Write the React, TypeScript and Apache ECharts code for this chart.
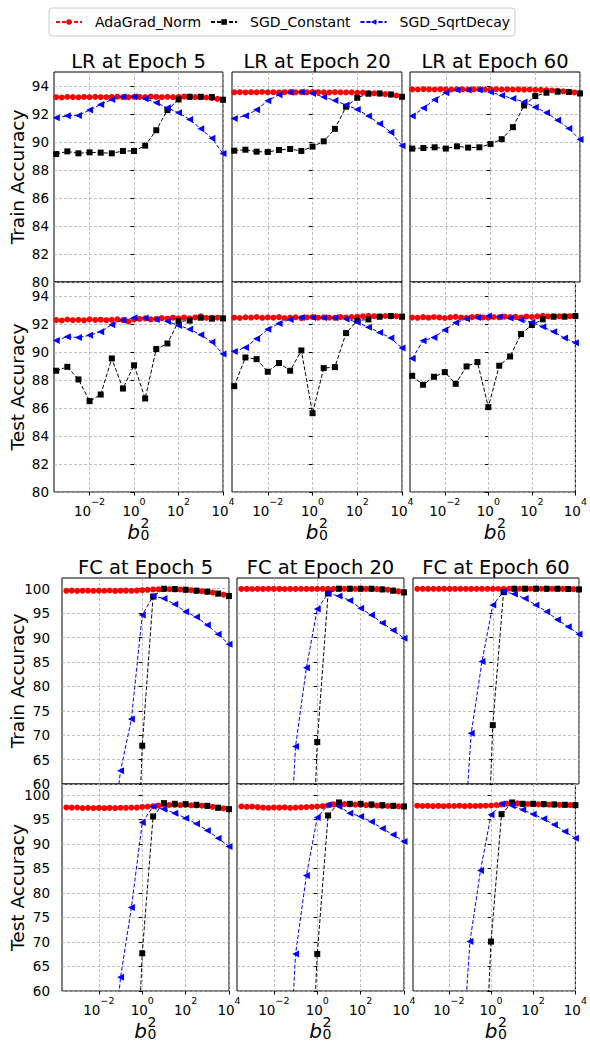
import React, { useEffect, useRef } from 'react';
import * as echarts from 'echarts';

// log10(b0^2) sample positions
const LOG_B0SQ_16 = [-3.5, -3, -2.5, -2, -1.5, -1, -0.5, 0, 0.5, 1, 1.5, 2, 2.5, 3, 3.5, 4];
const LOG_B0SQ_31 = [
  -3.5, -3.25, -3, -2.75, -2.5, -2.25, -2, -1.75, -1.5, -1.25,
  -1, -0.75, -0.5, -0.25, 0, 0.25, 0.5, 0.75, 1, 1.25,
  1.5, 1.75, 2, 2.25, 2.5, 2.75, 3, 3.25, 3.5, 3.75, 4,
];
const EPOCHS = [5, 20, 60];
const X_TICKS = [-2, 0, 2, 4];
const LR_Y_TICKS = [80, 82, 84, 86, 88, 90, 92, 94];
const FC_Y_TICKS = [60, 65, 70, 75, 80, 85, 90, 95, 100];
const SERIES_NAMES = ['AdaGrad_Norm', 'SGD_Constant', 'SGD_SqrtDecay'];

// ---------- LR, train ----------
const LR_TRAIN_ADAGRAD_E5 = [
  93.20, 93.18, 93.22, 93.21, 93.19, 93.22, 93.20, 93.23, 93.21, 93.20,
  93.22, 93.24, 93.21, 93.20, 93.23, 93.22, 93.21, 93.24, 93.22, 93.20,
  93.23, 93.21, 93.22, 93.24, 93.22, 93.21, 93.20, 93.18, 93.14, 93.08, 93.02,
];
const LR_TRAIN_CONST_E5 = [89.14, 89.33, 89.19, 89.26, 89.24, 89.19, 89.36, 89.36, 89.74, 90.84, 92.28, 93.04, 93.23, 93.23, 93.21, 93.02];
const LR_TRAIN_SQRT_E5 = [91.73, 91.87, 91.89, 92.28, 92.68, 93.04, 93.23, 93.23, 93.09, 92.80, 92.44, 92.09, 91.61, 90.94, 90.27, 89.17];

const LR_TRAIN_ADAGRAD_E20 = [
  93.55, 93.56, 93.54, 93.56, 93.55, 93.57, 93.55, 93.56, 93.54, 93.56,
  93.57, 93.55, 93.56, 93.55, 93.57, 93.56, 93.55, 93.54, 93.56, 93.55,
  93.54, 93.55, 93.52, 93.53, 93.50, 93.48, 93.45, 93.42, 93.38, 93.32, 93.25,
];
const LR_TRAIN_CONST_E20 = [89.38, 89.45, 89.31, 89.29, 89.43, 89.50, 89.36, 89.67, 90.05, 90.94, 92.52, 93.16, 93.45, 93.47, 93.40, 93.23];
const LR_TRAIN_SQRT_E20 = [91.68, 91.87, 92.30, 92.95, 93.38, 93.55, 93.57, 93.47, 93.21, 92.97, 92.64, 92.33, 91.85, 91.30, 90.70, 89.74];

const LR_TRAIN_ADAGRAD_E60 = [
  93.76, 93.75, 93.77, 93.76, 93.75, 93.77, 93.76, 93.75, 93.77, 93.76,
  93.75, 93.76, 93.77, 93.75, 93.76, 93.77, 93.75, 93.76, 93.75, 93.76,
  93.74, 93.75, 93.73, 93.72, 93.70, 93.68, 93.65, 93.62, 93.58, 93.54, 93.48,
];
const LR_TRAIN_CONST_E60 = [89.53, 89.57, 89.62, 89.53, 89.69, 89.60, 89.62, 89.86, 90.20, 91.06, 92.61, 93.28, 93.52, 93.59, 93.57, 93.47];
const LR_TRAIN_SQRT_E60 = [91.85, 92.42, 93.02, 93.52, 93.71, 93.71, 93.71, 93.57, 93.33, 93.11, 92.85, 92.49, 92.09, 91.56, 90.96, 90.17];

// ---------- LR, test ----------
const LR_TEST_ADAGRAD_E5 = [
  92.28, 92.25, 92.32, 92.27, 92.30, 92.26, 92.33, 92.29, 92.31, 92.27,
  92.30, 92.34, 92.28, 92.18, 92.32, 92.36, 92.40, 92.33, 92.36, 92.42,
  92.38, 92.45, 92.41, 92.47, 92.40, 92.47, 92.55, 92.44, 92.45, 92.45, 92.43,
];
const LR_TEST_CONST_E5 = [88.66, 88.94, 88.04, 86.49, 86.96, 89.54, 87.39, 89.05, 86.68, 90.21, 90.61, 92.19, 92.24, 92.45, 92.38, 92.40];
const LR_TEST_SQRT_E5 = [90.83, 91.09, 91.04, 91.19, 91.45, 91.95, 92.28, 92.45, 92.43, 92.33, 92.19, 91.90, 91.62, 91.23, 90.71, 89.85];

const LR_TEST_ADAGRAD_E20 = [
  92.45, 92.43, 92.48, 92.46, 92.50, 92.44, 92.47, 92.45, 92.49, 92.43,
  92.46, 92.48, 92.42, 92.47, 92.50, 92.45, 92.48, 92.46, 92.44, 92.49,
  92.47, 92.50, 92.52, 92.55, 92.58, 92.56, 92.54, 92.57, 92.55, 92.56, 92.54,
];
const LR_TEST_CONST_E20 = [87.56, 89.61, 89.49, 88.59, 89.21, 88.66, 90.11, 85.63, 88.85, 88.92, 91.35, 92.24, 92.33, 92.52, 92.57, 92.52];
const LR_TEST_SQRT_E20 = [90.04, 90.33, 90.95, 91.62, 92.04, 92.33, 92.47, 92.47, 92.45, 92.45, 92.35, 92.12, 91.76, 91.40, 91.00, 90.28];

const LR_TEST_ADAGRAD_E60 = [
  92.46, 92.44, 92.49, 92.45, 92.50, 92.47, 92.43, 92.48, 92.51, 92.46,
  92.44, 92.49, 92.52, 92.47, 92.45, 92.50, 92.48, 92.52, 92.49, 92.51,
  92.47, 92.53, 92.50, 92.55, 92.58, 92.54, 92.56, 92.55, 92.57, 92.56, 92.55,
];
const LR_TEST_CONST_E60 = [88.30, 87.66, 88.23, 88.56, 87.73, 88.97, 89.28, 86.06, 89.02, 89.68, 91.28, 91.93, 92.33, 92.52, 92.52, 92.57];
const LR_TEST_SQRT_E60 = [89.54, 90.80, 91.04, 91.57, 92.09, 92.38, 92.47, 92.57, 92.52, 92.43, 92.28, 92.12, 91.81, 91.45, 91.00, 90.66];

// ---------- FC, train ----------
const FC_TRAIN_ADAGRAD_E5 = [
  99.58, 99.62, 99.55, 99.60, 99.63, 99.57, 99.61, 99.59, 99.64, 99.56,
  99.60, 99.62, 99.58, 99.63, 99.70, 99.78, 99.85, 99.90, 99.93, 99.91,
  99.88, 99.84, 99.78, 99.70, 99.60, 99.50, 99.38, 99.22, 99.02, 98.80, 98.50,
];
const FC_TRAIN_CONST_E5 = [10.2, 10.1, 10.3, 10.0, 10.2, 10.1, 10.3, 67.84, 98.4, 100.0, 99.93, 99.8, 99.6, 99.4, 99.0, 98.5];
const FC_TRAIN_SQRT_E5 = [10.5, 11.2, 12.8, 18.5, 45.0, 62.73, 73.29, 94.62, 98.5, 98.02, 96.8, 95.3, 94.2, 92.57, 90.66, 88.62];

const FC_TRAIN_ADAGRAD_E20 = [
  99.96, 99.97, 99.95, 99.97, 99.96, 99.98, 99.96, 99.97, 99.95, 99.97,
  99.96, 99.98, 99.97, 99.96, 99.97, 99.98, 99.99, 100.0, 100.0, 99.99,
  100.0, 99.99, 99.98, 99.97, 99.95, 99.92, 99.88, 99.80, 99.62, 99.45, 99.25,
];
const FC_TRAIN_CONST_E20 = [10.1, 10.3, 10.0, 10.2, 10.1, 10.2, 11.5, 68.6, 99.05, 100.0, 100.0, 100.0, 100.0, 99.86, 99.6, 99.25];
const FC_TRAIN_SQRT_E20 = [10.2, 10.4, 11.0, 13.5, 26.0, 67.7, 83.8, 95.84, 99.05, 98.5, 97.6, 95.98, 94.6, 92.98, 91.48, 89.85];

const FC_TRAIN_ADAGRAD_E60 = [
  99.98, 99.99, 99.97, 99.98, 99.99, 99.98, 99.97, 99.99, 99.98, 99.99,
  99.97, 99.98, 99.99, 99.98, 99.99, 100.0, 100.0, 100.0, 100.0, 100.0,
  100.0, 100.0, 100.0, 100.0, 99.99, 99.99, 99.98, 99.97, 99.95, 99.92, 99.86,
];
const FC_TRAIN_CONST_E60 = [10.1, 10.2, 10.0, 10.3, 10.1, 10.2, 12.0, 72.06, 99.3, 100.0, 100.0, 100.0, 100.0, 100.0, 99.95, 99.86];
const FC_TRAIN_SQRT_E60 = [10.3, 10.5, 11.2, 14.0, 37.0, 70.4, 85.08, 96.66, 99.39, 98.9, 98.0, 96.66, 95.3, 93.66, 92.23, 90.66];

// ---------- FC, test ----------
const FC_TEST_ADAGRAD_E5 = [
  97.42, 97.38, 97.41, 97.30, 97.35, 97.28, 97.32, 97.27, 97.33, 97.30,
  97.36, 97.34, 97.40, 97.38, 97.52, 97.60, 97.68, 97.80, 97.95, 97.92,
  97.94, 97.90, 97.92, 97.86, 97.84, 97.78, 97.70, 97.55, 97.38, 97.22, 97.07,
];
const FC_TEST_CONST_E5 = [12.0, 11.5, 12.3, 11.8, 12.1, 12.0, 17.7, 67.69, 95.58, 98.3, 98.16, 98.1, 97.96, 97.76, 97.35, 97.07];
const FC_TEST_SQRT_E5 = [10.5, 11.0, 12.0, 18.0, 40.0, 62.79, 77.0, 94.35, 97.62, 97.07, 96.26, 95.24, 94.08, 92.72, 91.16, 89.46];

const FC_TEST_ADAGRAD_E20 = [
  97.62, 97.55, 97.60, 97.48, 97.40, 97.35, 97.42, 97.38, 97.45, 97.33,
  97.40, 97.45, 97.50, 97.55, 97.62, 97.70, 97.85, 98.05, 98.16, 98.10,
  98.05, 98.00, 97.95, 97.90, 97.85, 97.80, 97.75, 97.72, 97.68, 97.65, 97.62,
];
const FC_TEST_CONST_E20 = [11.5, 12.0, 11.8, 12.2, 11.9, 12.1, 18.5, 67.55, 95.78, 98.44, 98.16, 98.16, 98.03, 97.89, 97.76, 97.62];
const FC_TEST_SQRT_E20 = [10.3, 10.8, 11.5, 14.0, 26.7, 67.55, 83.54, 95.37, 97.96, 97.62, 96.26, 95.58, 94.49, 93.13, 91.84, 90.48];

const FC_TEST_ADAGRAD_E60 = [
  97.78, 97.72, 97.76, 97.70, 97.74, 97.68, 97.75, 97.71, 97.78, 97.69,
  97.74, 97.72, 97.76, 97.78, 97.82, 97.92, 98.05, 98.20, 98.30, 98.25,
  98.18, 98.12, 98.08, 98.05, 98.02, 98.00, 97.98, 97.95, 97.93, 97.91, 97.89,
];
const FC_TEST_CONST_E60 = [11.8, 12.2, 11.5, 12.0, 12.3, 11.9, 23.0, 70.07, 96.05, 98.44, 98.16, 98.16, 98.1, 98.03, 97.96, 97.89];
const FC_TEST_SQRT_E60 = [10.4, 10.9, 11.8, 15.0, 37.4, 70.07, 84.56, 95.92, 98.1, 97.76, 96.94, 96.05, 95.1, 93.88, 92.52, 91.16];

const DATA: Record<string, number[][][][]> = {
  // [row][col] -> [adagrad, const, sqrt]
  LR: [
    [
      [LR_TRAIN_ADAGRAD_E5, LR_TRAIN_CONST_E5, LR_TRAIN_SQRT_E5],
      [LR_TRAIN_ADAGRAD_E20, LR_TRAIN_CONST_E20, LR_TRAIN_SQRT_E20],
      [LR_TRAIN_ADAGRAD_E60, LR_TRAIN_CONST_E60, LR_TRAIN_SQRT_E60],
    ],
    [
      [LR_TEST_ADAGRAD_E5, LR_TEST_CONST_E5, LR_TEST_SQRT_E5],
      [LR_TEST_ADAGRAD_E20, LR_TEST_CONST_E20, LR_TEST_SQRT_E20],
      [LR_TEST_ADAGRAD_E60, LR_TEST_CONST_E60, LR_TEST_SQRT_E60],
    ],
  ],
  FC: [
    [
      [FC_TRAIN_ADAGRAD_E5, FC_TRAIN_CONST_E5, FC_TRAIN_SQRT_E5],
      [FC_TRAIN_ADAGRAD_E20, FC_TRAIN_CONST_E20, FC_TRAIN_SQRT_E20],
      [FC_TRAIN_ADAGRAD_E60, FC_TRAIN_CONST_E60, FC_TRAIN_SQRT_E60],
    ],
    [
      [FC_TEST_ADAGRAD_E5, FC_TEST_CONST_E5, FC_TEST_SQRT_E5],
      [FC_TEST_ADAGRAD_E20, FC_TEST_CONST_E20, FC_TEST_SQRT_E20],
      [FC_TEST_ADAGRAD_E60, FC_TEST_CONST_E60, FC_TEST_SQRT_E60],
    ],
  ],
};

const FONT = 'DejaVu Sans';

const LAYOUT: Record<string, any> = {
  LR: {
    lefts: [54, 232, 410], widths: [169, 170, 170], tops: [72, 282], heights: [210, 210],
    xMin: -3.6, yMin: 80, yMax: 95, yTicks: LR_Y_TICKS, labelMargin: 5, nameGap: 27, titleTop: 51,
  },
  FC: {
    lefts: [62, 237, 413], widths: [167, 167, 166], tops: [578, 784], heights: [206, 207],
    xMin: -3.7, yMin: 60, yMax: 102.2, yTicks: FC_Y_TICKS, labelMargin: 12, nameGap: 35, titleTop: 557,
  },
};

const GRID_LINE = { color: '#b0b0b0', width: 0.8, type: [3, 2] as any };

function buildOption() {
  const grid: any[] = [];
  const xAxis: any[] = [];
  const yAxis: any[] = [];
  const series: any[] = [];
  const title: any[] = [];
  const graphic: any[] = [];

  ['LR', 'FC'].forEach((model) => {
    const L = LAYOUT[model];
    [0, 1].forEach((row) => {
      [0, 1, 2].forEach((col) => {
        const g = grid.length;
        grid.push({
          left: L.lefts[col], top: L.tops[row], width: L.widths[col], height: L.heights[row],
          show: true, borderColor: '#000', borderWidth: 1, backgroundColor: 'transparent',
          containLabel: false,
        });
        xAxis.push({
          type: 'value', gridIndex: g, min: L.xMin, max: 4,
          axisLine: { show: false },
          axisTick: { show: row === 1, customValues: X_TICKS, length: 3.5, lineStyle: { color: '#000', width: 1 } },
          axisLabel: {
            show: row === 1, customValues: X_TICKS, margin: 12, color: '#000',
            formatter: (v: number) => `{b|10}{s|${v < 0 ? '\u2212' + -v : v}}`,
            rich: {
              b: { fontSize: 13.5, fontFamily: FONT, color: '#000', lineHeight: 14, verticalAlign: 'bottom' },
              s: { fontSize: 9.5, fontFamily: FONT, color: '#000', lineHeight: 10, padding: [0, 0, 12, 0], verticalAlign: 'bottom' },
            },
          },
          splitLine: { show: true, lineStyle: GRID_LINE },
        });
        yAxis.push({
          type: 'value', gridIndex: g, min: L.yMin, max: L.yMax,
          axisLine: { show: false },
          axisTick: { show: true, customValues: L.yTicks, length: 3.5, lineStyle: { color: '#000', width: 1 } },
          axisLabel: {
            show: col === 0, customValues: L.yTicks, margin: L.labelMargin,
            fontSize: 13.5, fontFamily: FONT, color: '#000',
          },
          splitLine: { show: true, lineStyle: GRID_LINE },
          name: col === 0 ? (row === 0 ? 'Train Accuracy' : 'Test Accuracy') : '',
          nameLocation: 'middle', nameGap: L.nameGap, nameRotate: 90, nameMoveOverlap: false,
          nameTextStyle: { fontSize: 18.5, fontFamily: FONT, color: '#000' },
        });
        const [ada, cst, sqr] = DATA[model][row][col];
        series.push({
          type: 'line', name: SERIES_NAMES[0], xAxisIndex: g, yAxisIndex: g,
          data: LOG_B0SQ_31.map((x, i) => [x, ada[i]]),
          symbol: 'circle', symbolSize: 6, showAllSymbol: true, clip: true,
          itemStyle: { color: '#ff0000' }, lineStyle: { color: '#ff0000', width: 1, type: [4, 2] },
        });
        series.push({
          type: 'line', name: SERIES_NAMES[1], xAxisIndex: g, yAxisIndex: g,
          data: LOG_B0SQ_16.map((x, i) => [x, cst[i]]),
          symbol: 'rect', symbolSize: 6, showAllSymbol: true, clip: true,
          itemStyle: { color: '#000000' }, lineStyle: { color: '#000000', width: 1, type: [4, 2] },
        });
        series.push({
          type: 'line', name: SERIES_NAMES[2], xAxisIndex: g, yAxisIndex: g,
          data: LOG_B0SQ_16.map((x, i) => [x, sqr[i]]),
          symbol: 'path://M0,5L10,0L10,10Z', symbolSize: 7, showAllSymbol: true, clip: true,
          itemStyle: { color: '#0000ff' }, lineStyle: { color: '#0000ff', width: 1, type: [4, 2] },
        });

        if (row === 0) {
          title.push({
            text: `${model} at Epoch ${EPOCHS[col]}`,
            left: L.lefts[col] + L.widths[col] / 2, top: L.titleTop, textAlign: 'center', padding: 0,
            textStyle: { fontSize: 19.5, fontWeight: 'normal', fontFamily: FONT, color: '#000', lineHeight: 20 },
          });
        } else {
          const c = L.lefts[col] + L.widths[col] / 2;
          const base = L.tops[1] + L.heights[1];
          graphic.push(
            { type: 'text', x: c + 1.5, y: base + 40, style: { text: 'b', fontSize: 20, fontStyle: 'italic', fontFamily: FONT, fill: '#000', align: 'right', verticalAlign: 'middle' } },
            { type: 'text', x: c + 2, y: base + 30.5, style: { text: '2', fontSize: 14, fontFamily: FONT, fill: '#000', align: 'left', verticalAlign: 'middle' } },
            { type: 'text', x: c + 2, y: base + 43, style: { text: '0', fontSize: 14, fontFamily: FONT, fill: '#000', align: 'left', verticalAlign: 'middle' } },
          );
        }
      });
    });
  });

  return {
    animation: false,
    backgroundColor: '#ffffff',
    textStyle: { fontFamily: FONT },
    title,
    legend: {
      data: SERIES_NAMES, left: 49, top: 8, padding: [7, 5, 7, 6], itemGap: 9,
      itemWidth: 26, itemHeight: 7,
      borderColor: '#cccccc', borderWidth: 1, borderRadius: 3, backgroundColor: '#ffffff',
      textStyle: { fontSize: 14, fontFamily: FONT, color: '#000', padding: [0, 0, 0, 8] },
    },
    grid, xAxis, yAxis, series, graphic,
  };
}

export default function App() {
  const ref = useRef<HTMLDivElement>(null);
  useEffect(() => {
    const chart = echarts.init(ref.current!, null, { renderer: 'svg' });
    chart.setOption(buildOption() as any);
    return () => chart.dispose();
  }, []);
  return (
    <div
      ref={ref}
      style={{ position: 'absolute', left: 0, top: 0, width: 590, height: 1044, background: '#fff' }}
    />
  );
}
